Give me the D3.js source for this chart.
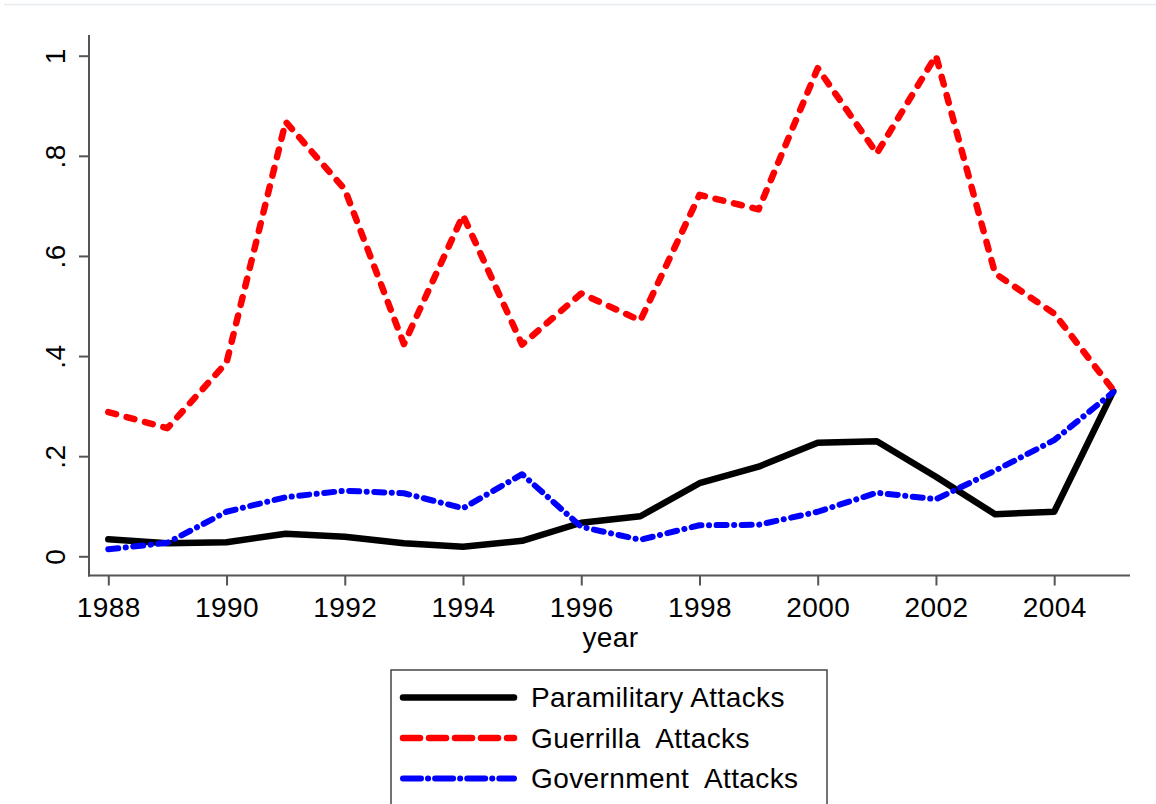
<!DOCTYPE html>
<html>
<head>
<meta charset="utf-8">
<script src="https://cdn.jsdelivr.net/npm/d3@7/dist/d3.min.js"></script>
<style>
  html, body { margin: 0; padding: 0; background: #fff; }
  svg { display: block; }
  text { font-family: "Liberation Sans", Arial, Helvetica, sans-serif; fill: #000; }
</style>
</head>
<body>
<svg id="chart" width="1156" height="804"></svg>
<script>
// Attack series by year (shares, 0..1)
const years = [1988, 1989, 1990, 1991, 1992, 1993, 1994, 1995, 1996,
               1997, 1998, 1999, 2000, 2001, 2002, 2003, 2004, 2005];
const paramilitary = [0.034, 0.026, 0.028, 0.045, 0.039, 0.026, 0.019, 0.031, 0.067,
                      0.080, 0.146, 0.179, 0.227, 0.230, 0.159, 0.084, 0.089, 0.330];
const guerrilla = [0.288, 0.256, 0.387, 0.868, 0.733, 0.424, 0.681, 0.423, 0.525,
                   0.471, 0.722, 0.693, 0.975, 0.805, 1.000, 0.565, 0.485, 0.332];
const government = [0.014, 0.027, 0.089, 0.118, 0.131, 0.126, 0.096, 0.164, 0.059,
                    0.033, 0.062, 0.063, 0.089, 0.127, 0.114, 0.171, 0.232, 0.328];

const yTicks = [0, 0.2, 0.4, 0.6, 0.8, 1];
const yTickLabels = ["0", ".2", ".4", ".6", ".8", "1"];
const xTicks = [1988, 1990, 1992, 1994, 1996, 1998, 2000, 2002, 2004];
const seriesNames = ["Paramilitary Attacks", "Guerrilla  Attacks", "Government  Attacks"];

const svg = d3.select("#chart");

// plot frame
const axisLeftX = 89, axisTopY = 35, axisBottomY = 575.5, axisRightX = 1130;

const x = d3.scaleLinear().domain([1988, 2005]).range([108.3, 1113.3]);
const y = d3.scaleLinear().domain([0, 1]).range([556.3, 55.7]);

// faint frame line at the top of the graph region
svg.append("line")
  .attr("x1", 4).attr("x2", 1156).attr("y1", 4.5).attr("y2", 4.5)
  .attr("stroke", "#e4eaee").attr("stroke-width", 1.5);

const axisColor = "#555";
const fontSize = 28;
const letterSpacing = "0.4px";

function styleText(sel) {
  sel.style("font-size", fontSize + "px")
     .style("font-family", '"Liberation Sans", Arial, sans-serif')
     .style("letter-spacing", letterSpacing)
     .attr("fill", "#000");
}

// y axis
const gy = svg.append("g").attr("transform", `translate(${axisLeftX},0)`)
  .call(d3.axisLeft(y).tickValues(yTicks).tickSize(10)
        .tickFormat((d, i) => yTickLabels[i]));
gy.select(".domain").remove();
gy.selectAll(".tick line").attr("stroke", axisColor).attr("stroke-width", 2);
gy.selectAll(".tick text")
  .attr("x", null).attr("dy", null)
  .attr("transform", "translate(-24,0) rotate(-90)")
  .attr("text-anchor", "middle")
  .call(styleText);
svg.append("line")
  .attr("x1", axisLeftX).attr("x2", axisLeftX)
  .attr("y1", axisTopY).attr("y2", axisBottomY + 1)
  .attr("stroke", axisColor).attr("stroke-width", 2);

// x axis
const gx = svg.append("g").attr("transform", `translate(0,${axisBottomY})`)
  .call(d3.axisBottom(x).tickValues(xTicks).tickSize(10).tickFormat(d3.format("d")));
gx.select(".domain").remove();
gx.selectAll(".tick line").attr("stroke", axisColor).attr("stroke-width", 2);
gx.selectAll(".tick text")
  .attr("y", 41).attr("dy", null)
  .call(styleText);
svg.append("line")
  .attr("x1", axisLeftX - 1).attr("x2", axisRightX)
  .attr("y1", axisBottomY).attr("y2", axisBottomY)
  .attr("stroke", axisColor).attr("stroke-width", 2);

svg.append("text")
  .attr("x", (axisLeftX + axisRightX) / 2 + 1).attr("y", 646.5)
  .attr("text-anchor", "middle")
  .call(styleText)
  .text("year");

// series lines
const styles = [
  { color: "#000000", width: 6.5, dash: null,             legendDash: null },
  { color: "#ff0000", width: 6.5, dash: "8 11",           legendDash: "17 9" },
  { color: "#0000ff", width: 6,   dash: "10 7.5 0.1 7.5", legendDash: "18 7 0.1 7" }
];
const series = [paramilitary, guerrilla, government];

const line = d3.line()
  .x((d, i) => x(years[i]))
  .y(d => y(d));

series.forEach((vals, k) => {
  const st = styles[k];
  svg.append("path")
    .datum(vals)
    .attr("d", line)
    .attr("fill", "none")
    .attr("stroke", st.color)
    .attr("stroke-width", st.width)
    .attr("stroke-linecap", "round")
    .attr("stroke-linejoin", "round")
    .attr("stroke-dasharray", st.dash);
});

// legend
const lg = svg.append("g");
lg.append("rect")
  .attr("x", 391).attr("y", 670).attr("width", 436).attr("height", 145)
  .attr("fill", "#fff").attr("stroke", "#444").attr("stroke-width", 1.5);
const rowY = [697.5, 738, 778.5];
seriesNames.forEach((name, k) => {
  const st = styles[k];
  lg.append("line")
    .attr("x1", 403).attr("x2", 514)
    .attr("y1", rowY[k]).attr("y2", rowY[k])
    .attr("stroke", st.color)
    .attr("stroke-width", st.width)
    .attr("stroke-linecap", "round")
    .attr("stroke-dasharray", st.legendDash);
  lg.append("text")
    .attr("x", 531).attr("y", rowY[k] + 9.5)
    .call(styleText)
    .attr("xml:space", "preserve")
    .style("white-space", "pre")
    .text(name);
});
</script>
</body>
</html>
